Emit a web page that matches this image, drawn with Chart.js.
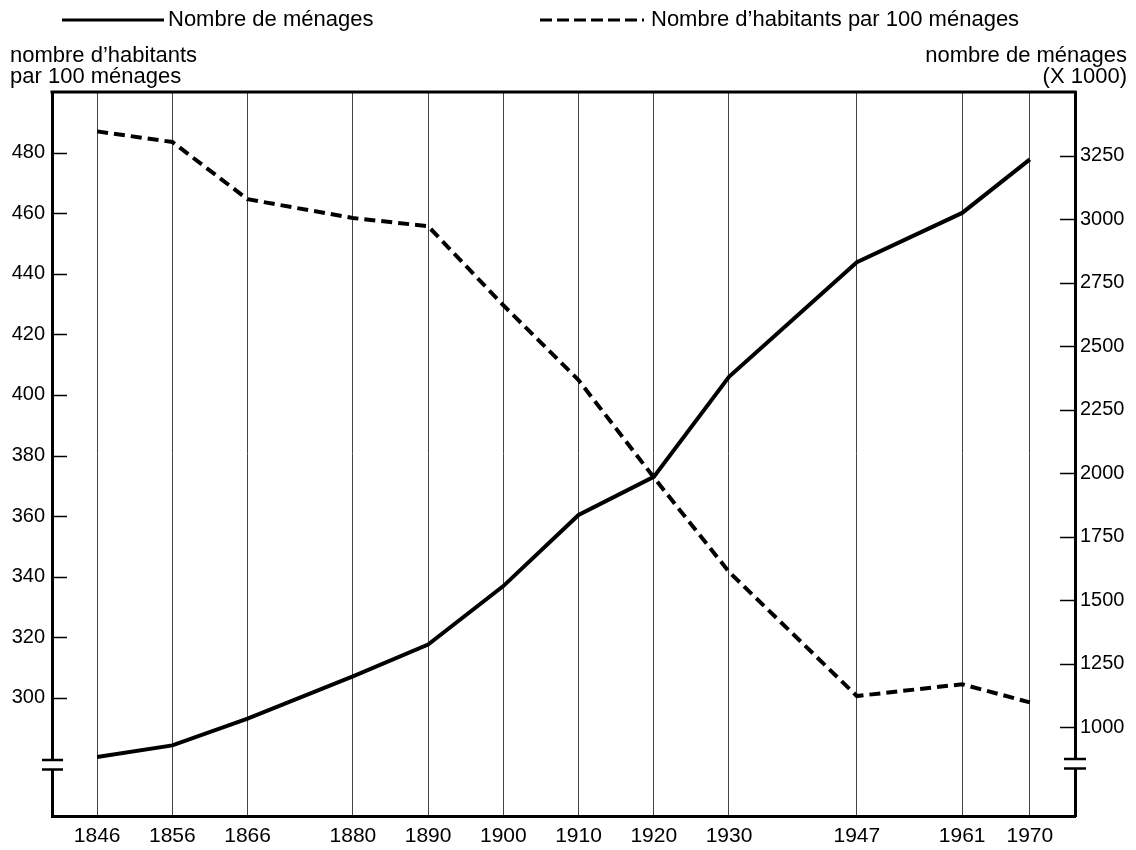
<!DOCTYPE html>
<html lang="fr">
<head>
<meta charset="UTF-8">
<title>Ménages et habitants par 100 ménages</title>
<script src="https://cdn.jsdelivr.net/npm/chart.js"></script>
<style>
    body { margin: 0; background: #fff; }
    .chart-box { width: 1136px; height: 850px; position: relative; }
</style>
</head>
<body>
<div class="chart-box"><canvas id="menages-chart"></canvas></div>
<script>
    // --- données ---
    const annees = [1846, 1856, 1866, 1880, 1890, 1900, 1910, 1920, 1930, 1947, 1961, 1970];
    // nombre de ménages (x 1000) - axe de droite
    const nombreMenages = [882, 928, 1033, 1200, 1325, 1555, 1835, 1985, 2379, 2830, 3024, 3235];
    // nombre d'habitants par 100 ménages - axe de gauche
    const habitantsPar100 = [487, 483.5, 464.6, 458.4, 455.7, 429.6, 404.9, 372.8, 341.6, 300.6, 304.5, 298.5];
    const ticksGauche = [300, 320, 340, 360, 380, 400, 420, 440, 460, 480];
    const ticksDroite = [1000, 1250, 1500, 1750, 2000, 2250, 2500, 2750, 3000, 3250];

    const POLICE = '"Liberation Sans", Arial, sans-serif';

    function trait(ctx, x1, y1, x2, y2) {
        ctx.beginPath();
        ctx.moveTo(x1, y1);
        ctx.lineTo(x2, y2);
        ctx.stroke();
    }

    // ticks vers l'intérieur, bord supérieur, coupures d'axe, légende et titres
    const decorPlugin = {
        id: 'decor',
        afterDraw(chart) {
            const { ctx, chartArea: a, scales } = chart;
            ctx.save();
            ctx.strokeStyle = '#000';
            ctx.lineCap = 'butt';

            ctx.lineWidth = 1.5;
            ticksGauche.forEach(v => {
                const y = Math.round(scales.yHab.getPixelForValue(v)) + 0.5;
                trait(ctx, a.left, y, a.left + 15, y);
            });
            ticksDroite.forEach(v => {
                const y = Math.round(scales.yMen.getPixelForValue(v)) + 0.5;
                trait(ctx, a.right - 15, y, a.right, y);
            });

            ctx.lineWidth = 3;
            trait(ctx, a.left - 1.5, a.top, a.right + 1.5, a.top);

            // coupures
            ctx.fillStyle = '#fff';
            ctx.fillRect(a.left - 4, a.bottom - 55, 8, 8);
            ctx.fillRect(a.right - 4, a.bottom - 56, 8, 8);
            ctx.lineWidth = 2.5;
            trait(ctx, a.left - 10, a.bottom - 56, a.left + 11, a.bottom - 56);
            trait(ctx, a.left - 10, a.bottom - 46.5, a.left + 11, a.bottom - 46.5);
            trait(ctx, a.right - 11, a.bottom - 57, a.right + 11, a.bottom - 57);
            trait(ctx, a.right - 11, a.bottom - 47.5, a.right + 11, a.bottom - 47.5);

            // légende
            ctx.lineWidth = 3;
            trait(ctx, 62, 20, 164, 20);
            ctx.setLineDash([12, 5]);
            trait(ctx, 540, 20, 644, 20);
            ctx.setLineDash([]);

            ctx.fillStyle = '#000';
            ctx.font = '22px ' + POLICE;
            ctx.textBaseline = 'middle';
            ctx.textAlign = 'left';
            ctx.fillText('Nombre de ménages', 168, 20);
            ctx.fillText('Nombre d’habitants par 100 ménages', 651, 20);

            ctx.fillText('nombre d’habitants', 10, 56);
            ctx.fillText('par 100 ménages', 10, 77);
            ctx.textAlign = 'right';
            ctx.fillText('nombre de ménages', 1127, 56);
            ctx.fillText('(X 1000)', 1127, 77);
            ctx.restore();
        }
    };

    new Chart(document.getElementById('menages-chart'), {
        type: 'line',
        data: {
            datasets: [
                {
                    label: 'Nombre de ménages',
                    data: annees.map((a, i) => ({ x: a, y: nombreMenages[i] })),
                    yAxisID: 'yMen',
                    borderColor: '#000',
                    borderWidth: 4,
                    pointRadius: 0,
                    tension: 0
                },
                {
                    label: 'Nombre d’habitants par 100 ménages',
                    data: annees.map((a, i) => ({ x: a, y: habitantsPar100[i] })),
                    yAxisID: 'yHab',
                    borderColor: '#000',
                    borderWidth: 4,
                    borderDash: [11, 6],
                    borderCapStyle: 'butt',
                    pointRadius: 0,
                    tension: 0
                }
            ]
        },
        options: {
            responsive: true,
            maintainAspectRatio: false,
            animation: false,
            layout: { padding: { top: 92, left: 0, right: 0, bottom: 0 } },
            plugins: { legend: { display: false }, tooltip: { enabled: false } },
            scales: {
                x: {
                    type: 'linear',
                    min: 1840,
                    max: 1976,
                    afterBuildTicks: s => { s.ticks = annees.map(v => ({ value: v })); },
                    afterFit: s => { s.height = 34; },
                    grid: { color: '#444', lineWidth: 1, drawTicks: false },
                    border: { display: true, color: '#000', width: 3 },
                    ticks: {
                        color: '#000',
                        font: { family: POLICE, size: 21 },
                        padding: 8,
                        autoSkip: false,
                        maxRotation: 0,
                        callback: v => String(v)
                    }
                },
                yHab: {
                    position: 'left',
                    min: 261,
                    max: 500,
                    afterBuildTicks: s => { s.ticks = ticksGauche.map(v => ({ value: v })); },
                    afterFit: s => { s.width = 52; },
                    grid: { display: false, drawTicks: false },
                    border: { display: true, color: '#000', width: 3 },
                    ticks: { color: '#000', font: { family: POLICE, size: 20 }, padding: 7 }
                },
                yMen: {
                    position: 'right',
                    min: 650,
                    max: 3500,
                    afterBuildTicks: s => { s.ticks = ticksDroite.map(v => ({ value: v })); },
                    afterFit: s => { s.width = 61; },
                    grid: { display: false, drawTicks: false },
                    border: { display: true, color: '#000', width: 3 },
                    ticks: { color: '#000', font: { family: POLICE, size: 20 }, padding: 5, callback: v => String(v) }
                }
            }
        },
        plugins: [decorPlugin]
    });
</script>
</body>
</html>
